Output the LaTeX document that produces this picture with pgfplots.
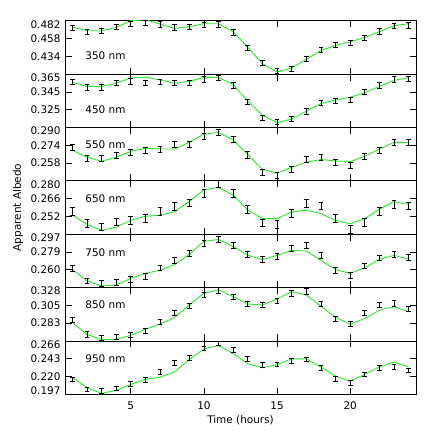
\documentclass[border=0pt]{standalone}
\usepackage{fontspec}
\setmainfont{DejaVu Sans}
\usepackage{pgfplots}
\usepackage{pgfplotstable}
\pgfplotsset{compat=1.18}
\definecolor{modelgreen}{RGB}{40,230,40}

% x  y(data)  e(error)  m(model)
\pgfplotstableread{
x y e m
1 0.4726 0.0035 0.4735
2 0.4673 0.0035 0.4686
3 0.4682 0.0035 0.4686
4 0.4735 0.0035 0.4731
5 0.4780 0.0035 0.4820
6 0.4789 0.0035 0.4833
7 0.4771 0.0035 0.4775
8 0.4731 0.0035 0.4717
9 0.4735 0.0035 0.4740
10 0.4762 0.0035 0.4780
11 0.4771 0.0035 0.4780
12 0.4664 0.0035 0.4673
13 0.4463 0.0035 0.4463
14 0.4257 0.0035 0.4248
15 0.4155 0.0035 0.4137
16 0.4181 0.0035 0.4190
17 0.4311 0.0035 0.4307
18 0.4432 0.0035 0.4423
19 0.4494 0.0035 0.4490
20 0.4521 0.0035 0.4539
21 0.4592 0.0035 0.4597
22 0.4677 0.0035 0.4673
23 0.4749 0.0035 0.4753
24 0.4757 0.0035 0.4780
}\tA
\pgfplotstableread{
x y e m
1 0.3560 0.003 0.3560
2 0.3501 0.003 0.3512
3 0.3501 0.003 0.3508
4 0.3549 0.003 0.3549
5 0.3568 0.003 0.3605
6 0.3553 0.003 0.3616
7 0.3560 0.003 0.3583
8 0.3549 0.003 0.3546
9 0.3549 0.003 0.3568
10 0.3590 0.003 0.3613
11 0.3605 0.003 0.3613
12 0.3523 0.003 0.3531
13 0.3337 0.003 0.3348
14 0.3158 0.003 0.3187
15 0.3113 0.003 0.3105
16 0.3143 0.003 0.3143
17 0.3232 0.003 0.3232
18 0.3325 0.003 0.3318
19 0.3352 0.003 0.3359
20 0.3363 0.003 0.3389
21 0.3449 0.003 0.3441
22 0.3523 0.003 0.3512
23 0.3590 0.003 0.3579
24 0.3598 0.003 0.3609
}\tB
\pgfplotstableread{
x y e m
1 0.2721 0.0027 0.2697
2 0.2623 0.0027 0.2632
3 0.2626 0.0027 0.2596
4 0.2647 0.0027 0.2632
5 0.2676 0.0027 0.2685
6 0.2691 0.0027 0.2712
7 0.2706 0.0027 0.2706
8 0.2745 0.0027 0.2706
9 0.2751 0.0027 0.2766
10 0.2817 0.0027 0.2840
11 0.2855 0.0027 0.2855
12 0.2790 0.0027 0.2787
13 0.2653 0.0027 0.2656
14 0.2498 0.0027 0.2522
15 0.2468 0.0027 0.2489
16 0.2522 0.0027 0.2542
17 0.2617 0.0027 0.2587
18 0.2632 0.0027 0.2611
19 0.2587 0.0027 0.2599
20 0.2557 0.0027 0.2593
21 0.2641 0.0027 0.2641
22 0.2697 0.0027 0.2706
23 0.2766 0.0027 0.2766
24 0.2766 0.0027 0.2766
}\tC
\pgfplotstableread{
x y e m
1 0.2558 0.003 0.2531
2 0.2465 0.003 0.2457
3 0.2436 0.003 0.2409
4 0.2478 0.003 0.2436
5 0.2489 0.003 0.2489
6 0.2502 0.003 0.2521
7 0.2558 0.003 0.2529
8 0.2600 0.003 0.2558
9 0.2627 0.003 0.2638
10 0.2702 0.003 0.2728
11 0.2776 0.003 0.2749
12 0.2702 0.003 0.2688
13 0.2577 0.003 0.2569
14 0.2470 0.003 0.2502
15 0.2457 0.003 0.2502
16 0.2542 0.003 0.2555
17 0.2622 0.003 0.2569
18 0.2603 0.003 0.2542
19 0.2502 0.003 0.2489
20 0.2420 0.003 0.2462
21 0.2475 0.003 0.2502
22 0.2558 0.003 0.2577
23 0.2616 0.003 0.2635
24 0.2603 0.003 0.2614
}\tD
\pgfplotstableread{
x y e m
1 0.2613 0.003 0.2603
2 0.2483 0.003 0.2486
3 0.2459 0.003 0.2431
4 0.2466 0.003 0.2442
5 0.2500 0.003 0.2510
6 0.2528 0.003 0.2562
7 0.2620 0.003 0.2596
8 0.2699 0.003 0.2654
9 0.2768 0.003 0.2761
10 0.2871 0.003 0.2895
11 0.2915 0.003 0.2915
12 0.2853 0.003 0.2843
13 0.2761 0.003 0.2750
14 0.2706 0.003 0.2706
15 0.2740 0.003 0.2750
16 0.2826 0.003 0.2802
17 0.2853 0.003 0.2795
18 0.2750 0.003 0.2699
19 0.2596 0.003 0.2603
20 0.2538 0.003 0.2562
21 0.2641 0.003 0.2620
22 0.2723 0.003 0.2709
23 0.2761 0.003 0.2750
24 0.2726 0.003 0.2709
}\tE
\pgfplotstableread{
x y e m
1 0.2868 0.0034 0.2838
2 0.2689 0.0034 0.2689
3 0.2647 0.0034 0.2621
4 0.2655 0.0034 0.2625
5 0.2685 0.0034 0.2676
6 0.2732 0.0034 0.2753
7 0.2846 0.0034 0.2817
8 0.2961 0.0034 0.2902
9 0.3046 0.0034 0.3059
10 0.3186 0.0034 0.3208
11 0.3242 0.0034 0.3250
12 0.3165 0.0034 0.3165
13 0.3072 0.0034 0.3072
14 0.3059 0.0034 0.3059
15 0.3110 0.0034 0.3135
16 0.3208 0.0034 0.3229
17 0.3229 0.0034 0.3186
18 0.3072 0.0034 0.3046
19 0.2885 0.0034 0.2902
20 0.2817 0.0034 0.2817
21 0.2961 0.0034 0.2889
22 0.3059 0.0034 0.2995
23 0.3080 0.0034 0.3038
24 0.3008 0.0034 0.2974
}\tF
\pgfplotstableread{
x y e m
1 0.2162 0.003 0.2192
2 0.2034 0.003 0.2055
3 0.2012 0.003 0.1982
4 0.2047 0.003 0.2021
5 0.2107 0.003 0.2098
6 0.2154 0.003 0.2162
7 0.2261 0.003 0.2192
8 0.2377 0.003 0.2261
9 0.2441 0.003 0.2420
10 0.2561 0.003 0.2557
11 0.2626 0.003 0.2600
12 0.2548 0.003 0.2497
13 0.2428 0.003 0.2364
14 0.2347 0.003 0.2313
15 0.2355 0.003 0.2355
16 0.2398 0.003 0.2428
17 0.2420 0.003 0.2428
18 0.2313 0.003 0.2321
19 0.2171 0.003 0.2205
20 0.2119 0.003 0.2141
21 0.2227 0.003 0.2227
22 0.2313 0.003 0.2325
23 0.2325 0.003 0.2385
24 0.2278 0.003 0.2325
}\tG

\pgfplotsset{
  panel/.style={
    anchor=south west, scale only axis,
    width=351bp, height=53.37bp,
    xmin=0.5, xmax=24.5,
    xtick={5,10,15,20}, xticklabels={},
    xtick pos=both, ytick pos=both, yticklabel pos=left,
    tick align=inside, major tick length=6.5bp,
    axis line style={line width=0.8pt},
    every tick/.style={black, line width=0.7pt},
    tick label style={font=\fontsize{10.5}{12}\selectfont},
    yticklabel style={xshift=-1bp},
    xticklabel style={yshift=-4bp},
    clip=true,
  },
  mdl/.style={modelgreen, line width=0.9pt, mark=none},
  dat/.style={draw=none, mark=none,
    error bars/.cd, y dir=both, y explicit, error mark=-,
    error bar style={draw=black, line width=0.8pt, solid},
    error mark options={rotate=90, draw=black, line width=0.8pt, mark size=2.4bp}},
}
\tikzset{lab/.style={anchor=west, font=\fontsize{10.5}{12}\selectfont}}
\newcommand{\dn}[1]{\raisebox{-3.5bp}[\height][\depth]{#1}}
\newcommand{\up}[1]{\raisebox{3.5bp}[\height][\depth]{#1}}

\begin{document}
\begin{tikzpicture}
\path[use as bounding box] (0,0) rectangle (436bp,436bp);

\begin{axis}[panel, at={(65bp,361.93bp)}, ymin=0.411, ymax=0.482,
  ytick={0.434,0.458,0.482}, yticklabels={0.434,0.458,\dn{0.482}}]
\addplot[mdl] table[x=x,y=m]{\tA};
\addplot[dat] table[x=x,y=y,y error=e]{\tA};
\node[lab] at (rel axis cs:0.048,0.345) {350 nm};
\end{axis}

\begin{axis}[panel, at={(65bp,308.56bp)}, ymin=0.305, ymax=0.365,
  ytick={0.325,0.345,0.365}, yticklabels={0.325,0.345,\dn{0.365}}]
\addplot[mdl] table[x=x,y=m]{\tB};
\addplot[dat] table[x=x,y=y,y error=e]{\tB};
\node[lab] at (rel axis cs:0.048,0.34) {450 nm};
\end{axis}

\begin{axis}[panel, at={(65bp,255.19bp)}, ymin=0.242, ymax=0.290,
  ytick={0.258,0.274,0.290}, yticklabels={0.258,0.274,\dn{0.290}}]
\addplot[mdl] table[x=x,y=m]{\tC};
\addplot[dat] table[x=x,y=y,y error=e]{\tC};
\node[lab] at (rel axis cs:0.048,0.67) {550 nm};
\end{axis}

\begin{axis}[panel, at={(65bp,201.82bp)}, ymin=0.238, ymax=0.280,
  ytick={0.252,0.266,0.280}, yticklabels={0.252,0.266,\dn{0.280}}]
\addplot[mdl] table[x=x,y=m]{\tD};
\addplot[dat] table[x=x,y=y,y error=e]{\tD};
\node[lab] at (rel axis cs:0.048,0.67) {650 nm};
\end{axis}

\begin{axis}[panel, at={(65bp,148.45bp)}, ymin=0.2415, ymax=0.297,
  ytick={0.260,0.2785,0.297}, yticklabels={0.260,0.279,\dn{0.297}}]
\addplot[mdl] table[x=x,y=m]{\tE};
\addplot[dat] table[x=x,y=y,y error=e]{\tE};
\node[lab] at (rel axis cs:0.048,0.655) {750 nm};
\end{axis}

\begin{axis}[panel, at={(65bp,95.08bp)}, ymin=0.2605, ymax=0.328,
  ytick={0.283,0.3055,0.328}, yticklabels={0.283,0.305,\dn{0.328}}]
\addplot[mdl] table[x=x,y=m]{\tF};
\addplot[dat] table[x=x,y=y,y error=e]{\tF};
\node[lab] at (rel axis cs:0.048,0.67) {850 nm};
\end{axis}

\begin{axis}[panel, at={(65bp,41.71bp)}, ymin=0.197, ymax=0.266,
  ytick={0.197,0.220,0.243,0.266}, yticklabels={\up{0.197},0.220,0.243,\dn{0.266}},
  xticklabels={5,10,15,20}]
\addplot[mdl] table[x=x,y=m]{\tG};
\addplot[dat] table[x=x,y=y,y error=e]{\tG};
\node[lab] at (rel axis cs:0.048,0.67) {950 nm};
\end{axis}

\node[font=\fontsize{10.5}{12}\selectfont, rotate=90] at (18bp,228.5bp) {Apparent Albedo};
\node[font=\fontsize{10.5}{12}\selectfont] at (240.5bp,16bp) {Time (hours)};
\end{tikzpicture}
\end{document}
